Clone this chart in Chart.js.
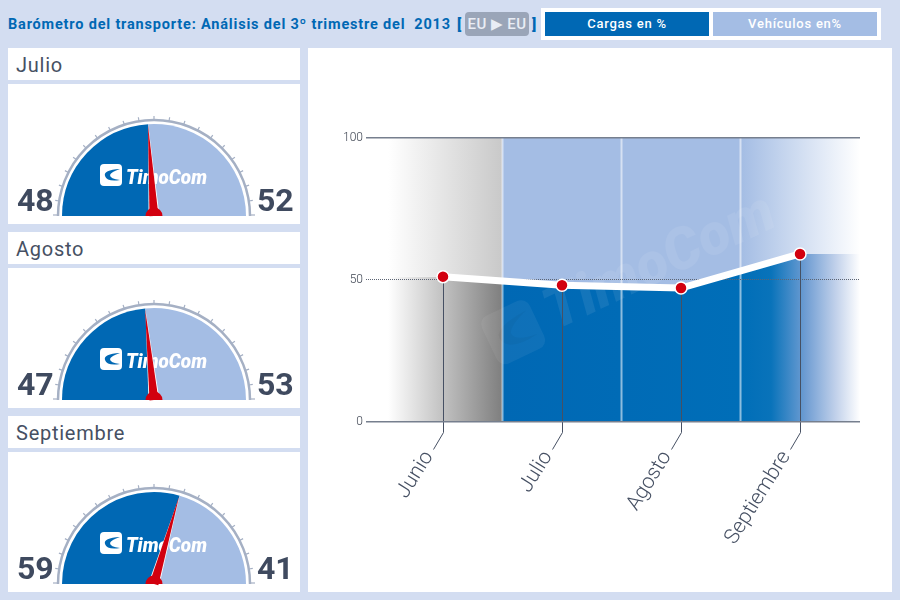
<!DOCTYPE html>
<html lang="es">
<head>
<meta charset="utf-8">
<title>Barómetro del transporte</title>
<script src="https://cdn.jsdelivr.net/npm/chart.js@4"></script>
<style>
    html, body { margin: 0; padding: 0; }
    body { width: 900px; height: 600px; background: #d3ddf1; position: relative; overflow: hidden; font-family: Roboto, sans-serif; }
    div, canvas { position: absolute; }
    #title { left: 8px; top: 16px; color: #0068b4; font-size: 14.5px; font-weight: 700; letter-spacing: .82px; white-space: pre; line-height: 18px; }
    .bracket { top: 15px; color: #0068b4; font-size: 15px; font-weight: 900; line-height: 18px; }
    #route { left: 465px; top: 12px; width: 64px; height: 24px; background: #9aa5b8; border-radius: 4px; color: #e9edf5; font-size: 15px; font-weight: 500; letter-spacing: .4px; line-height: 25px; text-align: center; white-space: pre; }
    #buttons { left: 541px; top: 8px; width: 340px; height: 32px; background: #fff; }
    .button { top: 4px; width: 164px; height: 24px; color: #fff; font-size: 13px; font-weight: 500; letter-spacing: .75px; line-height: 24px; text-align: center; }
    .month { left: 8px; width: 292px; height: 32px; background: #fff; color: #465063; font-size: 20px; line-height: 35px; text-indent: 8px; letter-spacing: .75px; }
    .gauge_box { left: 8px; width: 292px; height: 140px; background: #fff; }
    .gauge_number { top: 96px; color: #3f4a5f; font-size: 32px; font-weight: 700; line-height: 40px; }
    #main_box { left: 308px; top: 48px; width: 584px; height: 544px; background: #fff; }
</style>
</head>
<body>
<div id="title">Barómetro del transporte: Análisis del 3º trimestre del  2013</div>
<div class="bracket" style="left:457px">[</div>
<div id="route">EU ▶ EU</div>
<div class="bracket" style="left:532px">]</div>
<div id="buttons">
    <div class="button" style="left:4px;background:#0068b4">Cargas en %</div>
    <div class="button" style="left:172px;background:#a4bde4">Vehículos en%</div>
</div>
<div id="gauges"></div>
<div id="main_box"><canvas id="main_chart" width="584" height="544"></canvas></div>

<script>
const line_months = ['Junio', 'Julio', 'Agosto', 'Septiembre'];
const line_values = [51, 48, 47, 59];
const y_ticks = [0, 50, 100];

const gauge_months = ['Julio', 'Agosto', 'Septiembre'];
const gauge_cargas = [48, 47, 59];
const gauge_vehiculos = [52, 53, 41];

const BLUE = '#0068b4';
const LIGHT_BLUE = '#a4bde4';
const RED = '#d2000f';
const STEEL = '#a5b0c4';
const TEXT = '#465063';

// axis limits so that the four months sit 119px apart inside the plot
const x_min = -0.647;
const x_max = 3.504;

const drawLogo = (ctx, x, y, color, hole) => {
    // rounded badge with the road swoosh
    ctx.save();
    ctx.translate(x, y);
    ctx.fillStyle = color;
    ctx.beginPath();
    ctx.roundRect(0, 0, 22, 22, 4);
    ctx.fill();
    ctx.fillStyle = hole;
    ctx.beginPath();
    ctx.moveTo(20, 5);
    ctx.quadraticCurveTo(3, 6, 5, 12);
    ctx.quadraticCurveTo(7, 18, 20, 16);
    ctx.quadraticCurveTo(10, 15, 10, 11);
    ctx.quadraticCurveTo(11, 8, 20, 5);
    ctx.fill();
    ctx.restore();
};

const gaugePlugin = {
    id: 'gauge_parts',
    beforeDatasetsDraw(chart) {
        const ctx = chart.ctx;
        const arc = chart.getDatasetMeta(0).data[0];
        const r = arc.outerRadius;
        ctx.save();
        ctx.strokeStyle = STEEL;
        ctx.lineWidth = 2.5;
        ctx.beginPath();
        ctx.arc(arc.x, arc.y, r + 4, Math.PI, 0);
        ctx.stroke();
        ctx.lineWidth = 1.2;
        for (let i = 0; i <= 20; i++) {
            const a = Math.PI + i * Math.PI / 20;
            const outer = (i === 0 || i === 20) ? r + 9 : r + 8;
            ctx.beginPath();
            ctx.moveTo(arc.x + Math.cos(a) * (r + 4), arc.y + Math.sin(a) * (r + 4) - (i % 20 === 0 ? 1 : 0));
            ctx.lineTo(arc.x + Math.cos(a) * outer, arc.y + Math.sin(a) * outer - (i % 20 === 0 ? 1 : 0));
            ctx.stroke();
        }
        ctx.restore();
    },
    afterDatasetsDraw(chart) {
        const ctx = chart.ctx;
        const arc = chart.getDatasetMeta(0).data[0];
        const r = arc.outerRadius;
        const a = arc.endAngle;
        ctx.save();
        drawLogo(ctx, arc.x - 54, arc.y - 52, '#fff', BLUE);
        ctx.fillStyle = '#fff';
        ctx.font = 'italic 900 21px Roboto';
        ctx.textAlign = 'left';
        ctx.fillText('TimoCom', arc.x - 28, arc.y - 32, 81);

        // needle, white edge first and the red wedge over it
        const nx = Math.cos(a + Math.PI / 2);
        const ny = Math.sin(a + Math.PI / 2);
        const tipX = arc.x + Math.cos(a) * (r - 1);
        const tipY = arc.y + Math.sin(a) * (r - 1);
        ctx.fillStyle = '#fff';
        ctx.beginPath();
        ctx.moveTo(arc.x - nx * 5.5, arc.y - ny * 5.5);
        ctx.lineTo(tipX, tipY);
        ctx.lineTo(arc.x + nx * 5.5, arc.y + ny * 5.5);
        ctx.fill();
        ctx.fillStyle = RED;
        ctx.beginPath();
        ctx.moveTo(arc.x - nx * 4.5, arc.y - ny * 4.5);
        ctx.lineTo(tipX - nx * 0.3, tipY - ny * 0.3);
        ctx.lineTo(arc.x + nx * 4.5, arc.y + ny * 4.5);
        ctx.fill();
        ctx.beginPath();
        ctx.arc(arc.x, arc.y, 8.5, Math.PI, 0);
        ctx.fill();
        ctx.restore();
    }
};

const gauges = document.getElementById('gauges');

gauge_months.forEach((month, i) => {
    const top = 48 + i * 184;
    gauges.insertAdjacentHTML('beforeend', `
        <div class="month" style="top:${top}px">${month}</div>
        <div class="gauge_box" style="top:${top + 36}px">
            <canvas id="gauge_${i}" width="292" height="140"></canvas>
            <div class="gauge_number" style="left:9px">${gauge_cargas[i]}</div>
            <div class="gauge_number" style="left:249px">${gauge_vehiculos[i]}</div>
        </div>`);
});

gauge_months.forEach((month, i) => {
    new Chart(document.getElementById('gauge_' + i).getContext('2d'), {
        type: 'doughnut',
        data: {
            labels: ['Cargas', 'Vehículos'],
            datasets: [{
                data: [gauge_cargas[i], gauge_vehiculos[i]],
                backgroundColor: [BLUE, LIGHT_BLUE],
                borderColor: '#fff',
                borderWidth: 0
            }]
        },
        options: {
            responsive: false,
            animation: false,
            rotation: -90,
            circumference: 180,
            cutout: 0,
            layout: { padding: { top: 40, bottom: 8, left: 54, right: 54 } },
            plugins: { legend: { display: false }, tooltip: { enabled: false } }
        },
        plugins: [gaugePlugin]
    });
});

const linearFill = (chart, stops) => {
    const area = chart.chartArea;
    if (!area) return 'transparent';
    const gradient = chart.ctx.createLinearGradient(area.left, 0, area.right, 0);
    stops.forEach(([at, color]) => gradient.addColorStop(at, color));
    return gradient;
};

const upper_stops = [
    [0, '#ffffff'], [0.045, '#ffffff'], [0.275, '#c9c9c9'], [0.276, LIGHT_BLUE],
    [0.76, LIGHT_BLUE], [1, '#ffffff']
];
const lower_stops = [
    [0, '#ffffff'], [0.045, '#ffffff'], [0.275, '#7f7f7f'], [0.276, BLUE],
    [0.76, '#006eb8'], [0.82, '#0973ba'], [0.89, '#6f9dd3'], [0.95, '#c0d0ea'], [1, '#ffffff']
];

const line_points = line_values.map((value, i) => ({ x: i, y: value }));
const edge_points = [
    { x: x_min, y: line_values[0] },
    ...line_points,
    { x: x_max, y: line_values[line_values.length - 1] }
];

const mainParts = {
    id: 'main_parts',
    beforeDatasetDraw(chart, args) {
        if (args.index !== 0) return;
        const ctx = chart.ctx;
        const { x, y } = chart.scales;
        const area = chart.chartArea;
        const home_x = x.getPixelForValue(1);
        const home_y = y.getPixelForValue(y_ticks[1]);
        ctx.save();

        // faded brand mark behind the line
        ctx.save();
        ctx.translate(home_x - 7, home_y + 51);
        ctx.rotate(-0.44);
        ctx.fillStyle = 'rgba(255,255,255,0.08)';
        ctx.font = 'italic 900 58px Roboto';
        ctx.fillText('TimoCom', 0, 0);
        ctx.restore();
        ctx.save();
        ctx.translate(home_x - 84, home_y + 40);
        ctx.rotate(-0.44);
        ctx.scale(2.4, 2.4);
        ctx.globalAlpha = 0.06;
        drawLogo(ctx, 0, 0, '#ffffff', 'rgba(0,0,0,0.6)');
        ctx.restore();

        // month separators
        ctx.strokeStyle = 'rgba(255,255,255,0.55)';
        ctx.lineWidth = 2;
        for (let i = 0; i < line_values.length - 1; i++) {
            const sx = x.getPixelForValue(i + 0.5);
            ctx.beginPath();
            ctx.moveTo(sx, area.top);
            ctx.lineTo(sx, area.bottom);
            ctx.stroke();
        }

        // dotted middle line
        ctx.strokeStyle = '#5c6473';
        ctx.lineWidth = 1;
        ctx.setLineDash([1, 1]);
        ctx.beginPath();
        ctx.moveTo(area.left, home_y);
        ctx.lineTo(area.right, home_y);
        ctx.stroke();
        ctx.setLineDash([]);

        // leaders from each point to its month label
        ctx.strokeStyle = TEXT;
        line_values.forEach((value, i) => {
            const px = Math.round(x.getPixelForValue(i)) + 0.5;
            ctx.beginPath();
            ctx.moveTo(px, y.getPixelForValue(value));
            ctx.lineTo(px, area.bottom + 11);
            ctx.lineTo(px - 10, area.bottom + 28);
            ctx.stroke();
        });
        ctx.restore();
    }
};

const main_ctx = document.getElementById('main_chart').getContext('2d');

new Chart(main_ctx, {
    type: 'line',
    data: {
        datasets: [
            {
                label: 'Cargas en %',
                data: line_points,
                borderColor: '#ffffff',
                borderWidth: 7,
                tension: 0,
                fill: false,
                pointRadius: 6,
                pointBackgroundColor: RED,
                pointBorderColor: '#ffffff',
                pointBorderWidth: 1.5
            },
            {
                label: 'Vehículos',
                data: edge_points,
                borderWidth: 0,
                pointRadius: 0,
                tension: 0,
                fill: 'end',
                backgroundColor: (context) => linearFill(context.chart, upper_stops)
            },
            {
                label: 'Cargas',
                data: edge_points,
                borderWidth: 0,
                pointRadius: 0,
                tension: 0,
                fill: 'origin',
                backgroundColor: (context) => linearFill(context.chart, lower_stops)
            }
        ]
    },
    options: {
        responsive: false,
        animation: false,
        layout: { padding: { top: 89.5, right: 32, left: 0, bottom: 0 } },
        plugins: { legend: { display: false }, tooltip: { enabled: false } },
        scales: {
            x: {
                type: 'linear',
                min: x_min,
                max: x_max,
                grid: { display: false },
                border: { display: false },
                afterBuildTicks: (scale) => {
                    scale.ticks = line_months.map((month, i) => ({ value: i }));
                },
                afterFit: (scale) => {
                    scale.height = 170.5;
                    scale.paddingLeft = 0;
                    scale.paddingRight = 0;
                },
                ticks: {
                    autoSkip: false,
                    minRotation: 58,
                    maxRotation: 58,
                    padding: 17,
                    labelOffset: -14,
                    color: TEXT,
                    font: { family: 'Roboto', size: 21, weight: '300' },
                    callback: (value) => line_months[value]
                }
            },
            y: {
                min: y_ticks[0],
                max: y_ticks[2],
                afterBuildTicks: (scale) => {
                    scale.ticks = y_ticks.map((value) => ({ value: value }));
                },
                afterFit: (scale) => {
                    scale.width = 58;
                },
                grid: {
                    z: 1,
                    drawTicks: false,
                    lineWidth: 1.5,
                    color: (context) => context.tick.value === y_ticks[1] ? 'transparent' : '#767f8e'
                },
                border: { display: false },
                ticks: {
                    padding: 3,
                    color: '#3c4350',
                    font: { family: 'Roboto', size: 12, weight: '300' }
                }
            }
        }
    },
    plugins: [mainParts]
});
</script>
</body>
</html>
